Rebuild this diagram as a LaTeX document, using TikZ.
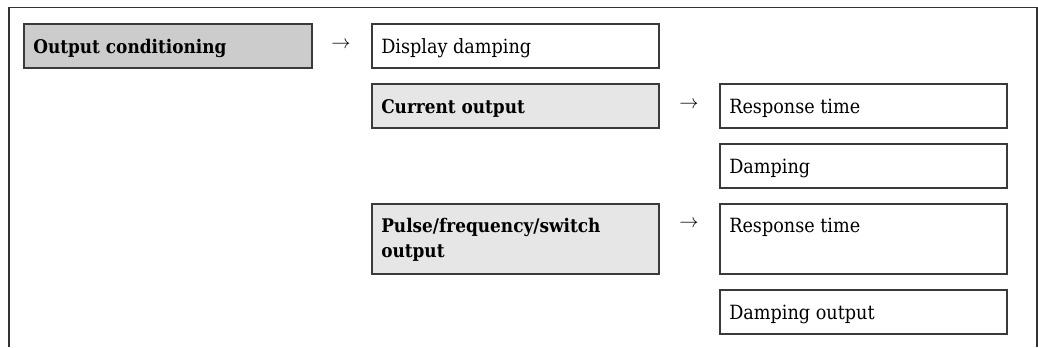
\documentclass[tikz,border=0pt]{standalone}
\usepackage{fontspec}
\setmainfont{DejaVu Serif Condensed}
\usetikzlibrary{calc}
\definecolor{boxline}{HTML}{3A3A3A}
\definecolor{frameline}{HTML}{333333}
\definecolor{darkfill}{HTML}{CCCCCC}
\definecolor{lightfill}{HTML}{E6E6E6}
\begin{document}
\begin{tikzpicture}[x=0.75pt,y=-0.75pt,
  box/.style={draw=boxline,line width=1pt,rectangle,anchor=north west,inner sep=0pt,outer sep=0pt,minimum width=215.25pt},
  wide/.style={minimum width=216pt},
  short/.style={minimum height=33pt},
  tall/.style={minimum height=52.5pt},
  txt/.style={anchor=base west,inner sep=0pt,font=\fontsize{14.7}{18.75}\selectfont,align=left},
  btxt/.style={txt,font=\fontsize{14.1}{18.75}\selectfont\bfseries},
  arr/.style={inner sep=0pt,font=\fontsize{15}{17}\selectfont}]
\useasboundingbox (0,0) rectangle (1038,347);
\draw[frameline,line width=0.8pt] (9,347) -- (9,7.5) -- (1037,7.5) -- (1037,347);
% boxes
\node[box,wide,short,fill=darkfill] (b1) at (24,24) {};
\node[btxt] (t1) at ($(b1.north west)+(9,29)$) {Output conditioning};
\node[arr] (a1) at (341,45) {$\rightarrow$};
\node[box,short] (b2) at (372,24) {};
\node[txt] (t2) at ($(b2.north west)+(9,29)$) {Display damping};
\node[box,short,fill=lightfill] (b3) at (372,84) {};
\node[btxt] (t3) at ($(b3.north west)+(9,29)$) {Current output};
\node[arr] (a2) at (689,105) {$\rightarrow$};
\node[box,short] (b4) at (720,84) {};
\node[txt] (t4) at ($(b4.north west)+(9,29)$) {Response time};
\node[box,short] (b5) at (720,144) {};
\node[txt] (t5) at ($(b5.north west)+(9,29)$) {Damping};
\node[box,tall,fill=lightfill] (b6) at (372,204) {};
\node[btxt] (t6) at ($(b6.north west)+(9,53)$) {Pulse/frequency/switch\\output};
\node[arr] (a3) at (689,224) {$\rightarrow$};
\node[box,tall] (b7) at (720,204) {};
\node[txt] (t7) at ($(b7.north west)+(9,28)$) {Response time};
\node[box,short] (b8) at (720,290) {};
\node[txt] (t8) at ($(b8.north west)+(9,29)$) {Damping output};
\end{tikzpicture}
\end{document}
